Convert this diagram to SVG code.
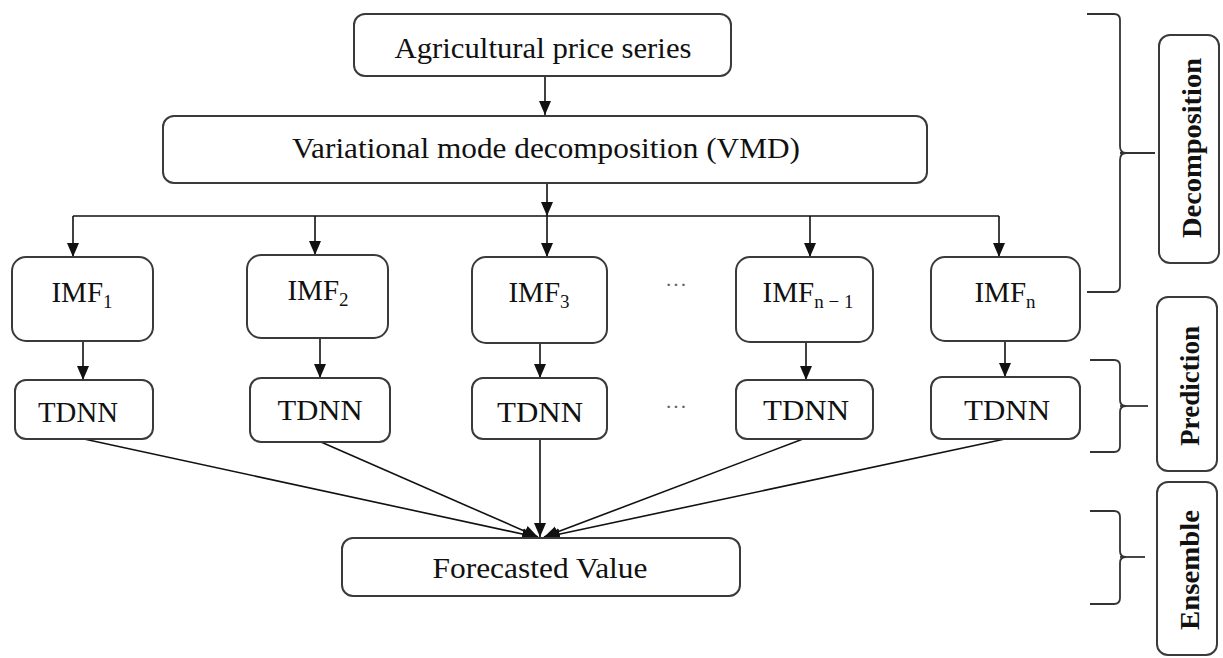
<svg xmlns="http://www.w3.org/2000/svg" width="1223" height="658" viewBox="0 0 1223 658">
<style>
.box{fill:#fff;stroke:#3a3a3a;stroke-width:2}
.t{font-family:"Liberation Serif","Times New Roman",serif;font-size:29px;fill:#111;text-anchor:middle}
.sub{font-size:19px}
.lab{font-family:"Liberation Serif","Times New Roman",serif;font-size:27px;font-weight:bold;fill:#111;text-anchor:middle}
.dots{font-family:"Liberation Serif",serif;font-size:22px;fill:#666;text-anchor:middle}
.c{fill:none;stroke:#111;stroke-width:1.6}
.br{fill:none;stroke:#333;stroke-width:1.8}
</style>
<defs>
<marker id="ah" markerWidth="14" markerHeight="14" viewBox="0 0 14 14" refX="14" refY="7" orient="auto" markerUnits="userSpaceOnUse">
<path d="M0,1 L14,7 L0,13 Z" fill="#111"/>
</marker>
</defs>

<g id="connectors">
<line class="c" x1="545" y1="76" x2="545" y2="115" marker-end="url(#ah)"/>
<line class="c" x1="547" y1="183" x2="547" y2="216" marker-end="url(#ah)"/>
<path class="c" d="M73,216 H999"/>
<line class="c" x1="73" y1="216" x2="73" y2="257" marker-end="url(#ah)"/>
<line class="c" x1="315" y1="216" x2="315" y2="255" marker-end="url(#ah)"/>
<line class="c" x1="547" y1="216" x2="547" y2="257" marker-end="url(#ah)"/>
<line class="c" x1="810" y1="216" x2="810" y2="257" marker-end="url(#ah)"/>
<line class="c" x1="999" y1="216" x2="999" y2="257" marker-end="url(#ah)"/>
<line class="c" x1="83" y1="341" x2="83" y2="380" marker-end="url(#ah)"/>
<line class="c" x1="320" y1="338" x2="320" y2="378" marker-end="url(#ah)"/>
<line class="c" x1="540" y1="343" x2="540" y2="378" marker-end="url(#ah)"/>
<line class="c" x1="806" y1="342" x2="806" y2="380" marker-end="url(#ah)"/>
<line class="c" x1="1005" y1="341" x2="1005" y2="377" marker-end="url(#ah)"/>
<line class="c" x1="84" y1="439" x2="536" y2="537" marker-end="url(#ah)"/>
<line class="c" x1="321" y1="442" x2="538" y2="537" marker-end="url(#ah)"/>
<line class="c" x1="540" y1="439" x2="540" y2="537" marker-end="url(#ah)"/>
<line class="c" x1="803" y1="439" x2="544" y2="537" marker-end="url(#ah)"/>
<line class="c" x1="1005" y1="439" x2="546" y2="537" marker-end="url(#ah)"/>
</g>

<g id="agri">
<rect class="box" x="354" y="14" width="377" height="62" rx="11"/>
<text class="t" x="543" y="58" textLength="297" lengthAdjust="spacingAndGlyphs">Agricultural price series</text>
</g>
<g id="vmd">
<rect class="box" x="163" y="116" width="764" height="67" rx="11"/>
<text class="t" x="546" y="158" textLength="508" lengthAdjust="spacingAndGlyphs">Variational mode decomposition (VMD)</text>
</g>

<g id="imf1">
<rect class="box" x="12" y="257" width="141" height="84" rx="14"/>
<text class="t" x="82" y="302">IMF<tspan class="sub" dy="6">1</tspan></text>
</g>
<g id="imf2">
<rect class="box" x="247" y="255" width="141" height="83" rx="14"/>
<text class="t" x="318" y="300">IMF<tspan class="sub" dy="6">2</tspan></text>
</g>
<g id="imf3">
<rect class="box" x="472" y="257" width="135" height="86" rx="14"/>
<text class="t" x="539" y="302">IMF<tspan class="sub" dy="6">3</tspan></text>
</g>
<g id="imfn1">
<rect class="box" x="736" y="257" width="137" height="85" rx="14"/>
<text class="t" x="808" y="302">IMF<tspan class="sub" dy="6">n − 1</tspan></text>
</g>
<g id="imfn">
<rect class="box" x="931" y="257" width="149" height="84" rx="14"/>
<text class="t" x="1005" y="302">IMF<tspan class="sub" dy="6">n</tspan></text>
</g>
<text class="dots" x="676" y="292">···</text>

<g id="tdnn1">
<rect class="box" x="15" y="380" width="138" height="59" rx="11"/>
<text class="t" x="78" y="422" textLength="80" lengthAdjust="spacingAndGlyphs">TDNN</text>
</g>
<g id="tdnn2">
<rect class="box" x="250" y="378" width="140" height="64" rx="11"/>
<text class="t" x="320" y="420" textLength="85" lengthAdjust="spacingAndGlyphs">TDNN</text>
</g>
<g id="tdnn3">
<rect class="box" x="472" y="378" width="135" height="61" rx="11"/>
<text class="t" x="540" y="422" textLength="86" lengthAdjust="spacingAndGlyphs">TDNN</text>
</g>
<g id="tdnn4">
<rect class="box" x="736" y="380" width="137" height="59" rx="11"/>
<text class="t" x="806" y="420" textLength="86" lengthAdjust="spacingAndGlyphs">TDNN</text>
</g>
<g id="tdnn5">
<rect class="box" x="931" y="377" width="149" height="62" rx="11"/>
<text class="t" x="1007" y="420" textLength="86" lengthAdjust="spacingAndGlyphs">TDNN</text>
</g>
<text class="dots" x="676" y="414">···</text>

<g id="forecast">
<rect class="box" x="342" y="538" width="398" height="58" rx="11"/>
<text class="t" x="540" y="578" textLength="215" lengthAdjust="spacingAndGlyphs">Forecasted Value</text>
</g>

<g id="brackets">
<path class="br" d="M1087,14 H1114 Q1120,14 1120,20 V146 Q1120,153 1126,153 Q1120,153 1120,160 V286 Q1120,292 1114,292 H1087"/>
<line class="br" x1="1120" y1="153" x2="1155" y2="153"/>
<path class="br" d="M1090,360 H1114 Q1120,360 1120,366 V400 Q1120,406 1126,406 Q1120,406 1120,412 V446 Q1120,452 1114,452 H1090"/>
<line class="br" x1="1120" y1="406" x2="1148" y2="406"/>
<path class="br" d="M1090,511 H1114 Q1120,511 1120,517 V551 Q1120,557 1126,557 Q1120,557 1120,563 V598 Q1120,604 1114,604 H1090"/>
<line class="br" x1="1120" y1="557" x2="1145" y2="557"/>
</g>

<g id="decomposition">
<rect class="box" x="1159" y="35" width="60" height="228" rx="11"/>
<text class="lab" transform="translate(1201,148) rotate(-90)" x="0" y="0" textLength="180" lengthAdjust="spacingAndGlyphs">Decomposition</text>
</g>
<g id="prediction">
<rect class="box" x="1157" y="297" width="60" height="174" rx="11"/>
<text class="lab" transform="translate(1199,386) rotate(-90)" x="0" y="0" textLength="120" lengthAdjust="spacingAndGlyphs">Prediction</text>
</g>
<g id="ensemble">
<rect class="box" x="1157" y="482" width="60" height="173" rx="11"/>
<text class="lab" transform="translate(1199,570) rotate(-90)" x="0" y="0" textLength="120" lengthAdjust="spacingAndGlyphs">Ensemble</text>
</g>
</svg>
